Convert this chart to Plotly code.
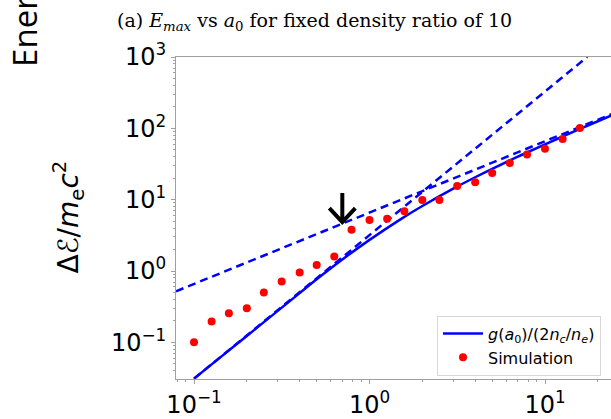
import math
import plotly.graph_objects as go

# ---------------- data ----------------
sim_a0 = [0.1, 0.126, 0.158, 0.2, 0.25, 0.316, 0.4, 0.5, 0.63, 0.79, 1.0, 1.26,
          1.58, 2.0, 2.5, 3.16, 4.0, 5.0, 6.3, 7.9, 10.0, 12.6, 15.8]
sim_E = [0.1, 0.196, 0.255, 0.30, 0.50, 0.71, 0.95, 1.21, 1.6, 3.8, 5.2, 5.4,
         6.9, 9.9, 9.9, 15.5, 17.6, 23.7, 32.6, 43.0, 51.6, 71.0, 101.0]

theory_a0 = [0.1, 0.15, 0.2, 0.3, 0.4, 0.5, 0.7, 1.0, 1.5, 2.0, 3.0, 4.0, 5.0,
             7.0, 10.0, 15.0, 20.0, 25.0]
theory_E = [0.031, 0.0695, 0.123, 0.276, 0.49, 0.765, 1.45, 2.73, 5.30,
            8.16, 14.27, 20.61, 27.05, 40.07, 59.73, 92.62, 125.6, 158.5]

# asymptotes (end points)
low_a0 = [0.1, 17.4]
low_E = [0.031, 1000.0]
high_a0 = [0.079, 25.0]
high_E = [0.52, 165.0]

arrow_a0 = 0.70
arrow_E = 4.7

x_tickvals = [0.1, 1, 10]
x_ticktext = ["10<sup>\u22121</sup>", "10<sup>0</sup>", "10<sup>1</sup>"]
y_tickvals = [0.1, 1, 10, 100, 1000]
y_ticktext = ["10<sup>\u22121</sup>", "10<sup>0</sup>", "10<sup>1</sup>",
              "10<sup>2</sup>", "10<sup>3</sup>"]
minor_vals = [d * 10 ** e for e in range(-2, 4) for d in range(2, 10)]

title_text = "(a) <i>E<sub>max</sub></i> vs <i>a</i><sub>0</sub> for fixed density ratio of 10"
ylabel_text = "\u0394<i>\u2130</i>/<i>m</i><sub>e</sub><i>c</i><sup>2</sup>"
legend_theory = "<i>g</i>(<i>a</i><sub>0</sub>)/(2<i>n<sub>c</sub></i>/<i>n<sub>e</sub></i>)"
legend_sim = "Simulation"

# ---------------- layout geometry ----------------
W, H = 611, 419
L, R, T, B = 176, 0, 57, 37
PW, PH = W - L - R, H - T - B

def px(x):
    return (x - L) / PW

def py(y):
    return (H - B - y) / PH

BLUE = "#0000ff"
GRAY = "#a0a0a0"

fig = go.Figure()
fig.add_trace(go.Scatter(x=low_a0, y=low_E, mode="lines",
                         line=dict(color=BLUE, width=2.5, dash="8px,5px"),
                         showlegend=False, hoverinfo="skip"))
fig.add_trace(go.Scatter(x=high_a0, y=high_E, mode="lines",
                         line=dict(color=BLUE, width=2.5, dash="8px,5px"),
                         showlegend=False, hoverinfo="skip"))
fig.add_trace(go.Scatter(x=theory_a0, y=theory_E, mode="lines", name=legend_theory,
                         line=dict(color=BLUE, width=2.5, shape="spline")))
fig.add_trace(go.Scatter(x=sim_a0, y=sim_E, mode="markers", name=legend_sim,
                         marker=dict(color="#ff0000", size=8)))

# arrow (drawn with pixel offsets relative to its data anchor)
fig.add_shape(type="path", xref="x", yref="y", xsizemode="pixel", ysizemode="pixel",
              xanchor=arrow_a0, yanchor=arrow_E,
              path="M 0 1 L 0 30 M -13 15 L 0 1 L 13 15",
              line=dict(color="black", width=4))

axis_common = dict(type="log", showgrid=False, zeroline=False, showline=True,
                   linecolor=GRAY, linewidth=1, ticks="outside", ticklen=4,
                   tickcolor=GRAY, tickwidth=1,
                   tickfont=dict(family="DejaVu Sans", size=24, color="black"),
                   minor=dict(tickvals=minor_vals, ticks="outside", ticklen=2,
                              tickcolor=GRAY, tickwidth=1, showgrid=False))

fig.update_xaxes(**axis_common, range=[-1.1026, 1.376], tickmode="array",
                 tickvals=x_tickvals, ticktext=x_ticktext, mirror=True)
fig.update_yaxes(**axis_common, range=[-1.514, 3.0], tickmode="array",
                 tickvals=y_tickvals, ticktext=y_ticktext, mirror=False)

fig.add_annotation(text=title_text, xref="paper", yref="paper", x=px(314), y=py(21),
                   showarrow=False, font=dict(family="DejaVu Serif", size=19, color="black"),
                   xanchor="center", yanchor="middle")
fig.add_annotation(text=ylabel_text, xref="paper", yref="paper", x=px(69), y=py(219),
                   showarrow=False, textangle=-90,
                   font=dict(family="DejaVu Sans", size=28, color="black"),
                   xanchor="center", yanchor="middle")
fig.add_annotation(text="Energy", xref="paper", yref="paper", x=px(25), y=py(68),
                   showarrow=False, textangle=-90, borderpad=0,
                   font=dict(family="Open Sans", size=33, color="black"),
                   xanchor="center", yanchor="bottom")

fig.update_layout(
    width=W, height=H, margin=dict(l=L, r=R, t=T, b=B),
    paper_bgcolor="white", plot_bgcolor="white",
    showlegend=True,
    legend=dict(x=px(437), y=py(318), xanchor="left", yanchor="top",
                bgcolor="rgba(255,255,255,0.85)", bordercolor="#d8d8d8", borderwidth=1,
                font=dict(family="DejaVu Sans", size=16, color="black"),
                itemwidth=40, tracegroupgap=0),
)

fig.write_html("out.html")
